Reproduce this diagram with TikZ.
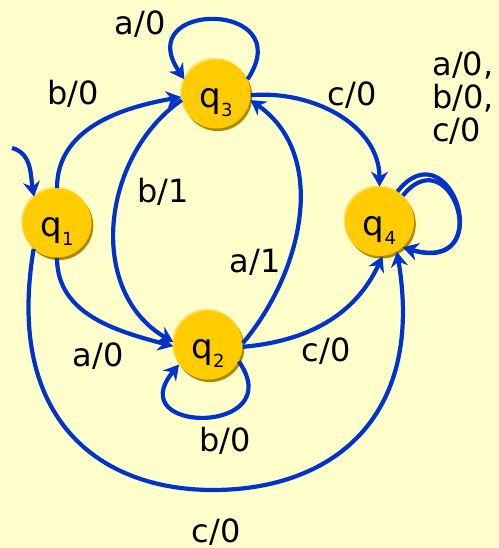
\documentclass[tikz,border=0pt]{standalone}
\usepackage{fontspec}
\setmainfont{DejaVu Sans}
\usetikzlibrary{arrows.meta,shadows}
\definecolor{paper}{HTML}{FFFFCC}
\definecolor{gold}{HTML}{FFCC00}
\definecolor{golddark}{HTML}{B08800}
\definecolor{goldlight}{HTML}{FFE070}
\definecolor{edgeblue}{HTML}{0033CC}
\newcommand{\stname}[1]{q\raisebox{-4.5pt}{\fontsize{9}{9}\selectfont #1}}

\begin{document}
\begin{tikzpicture}[x=0.5pt, y=0.5pt, state/.style={circle, fill=gold, minimum size=34.5pt, inner sep=0pt, font=\fontsize{17}{18}\selectfont, text height=18pt, text depth=4.5pt, drop shadow={shadow xshift=0.9pt, shadow yshift=-1.3pt, fill=golddark, opacity=1}, general shadow={shadow xshift=-0.7pt, shadow yshift=0.8pt, fill=goldlight}}, lbl/.style={inner sep=0pt, font=\fontsize{16}{16.5}\selectfont}, arr/.style={draw=edgeblue, line width=2.1pt, -{Stealth[length=7.5pt,width=8.5pt,inset=2.5pt]}}]
\path[use as bounding box, fill=paper] (0,0) rectangle (499,548);
\node[state] (q1) at (57,325) {\stname{1}};
\node[state] (q3) at (216,454) {\stname{3}};
\node[state] (q2) at (208,203) {\stname{2}};
\node[state] (q4) at (379.5,326.5) {\stname{4}};
\coordinate (init) at (12,400);
\node[lbl] (la33) at (140,524) {a/0};
\node[lbl] (lb13) at (73,454) {b/0};
\node[lbl] (lc34) at (352,453) {c/0};
\node[lbl, align=left, anchor=west] (l44) at (432,450) {a/0,\\b/0,\\c/0};
\node[lbl] (lb32) at (163,356) {b/1};
\node[lbl] (la23) at (255,286) {a/1};
\node[lbl] (la12) at (98,192) {a/0};
\node[lbl] (lc24) at (326,197) {c/0};
\node[lbl] (lb22) at (225,107) {b/0};
\node[lbl] (lc14) at (216,16) {c/0};
\draw[arr] (init) to[out=-15,in=100] (q1.131); \draw[arr] (q1.north) to[out=90,in=190] (q3.185); \draw[arr] (q1.south) to[out=270,in=165] (q2.182);
\draw[arr] (q1.228) .. controls (5,128) and (100,58) .. (213,58) .. controls (330,58) and (425,128) .. (q4.300);
\draw[arr] (q3.190) to[out=215,in=150,looseness=1.05] (q2.175); \draw[arr] (q3.358) to[out=5,in=90] (q4.north);
\draw[arr] (q3.25) .. controls (300,548) and (130,548) .. (q3.155);
\draw[arr] (q2.3) to[out=50,in=-35] (q3.350); \draw[arr] (q2.-3) to[out=5,in=245] (q4.275);
\draw[arr] (q2.332) .. controls (290,113) and (120,113) .. (q2.214);
\draw[arr] (q4.59) .. controls (450,423) and (500,273) .. (q4.-48);
\draw[arr] (q4.48) .. controls (452,413) and (497,273) .. (q4.-48);
\end{tikzpicture}
\end{document}
